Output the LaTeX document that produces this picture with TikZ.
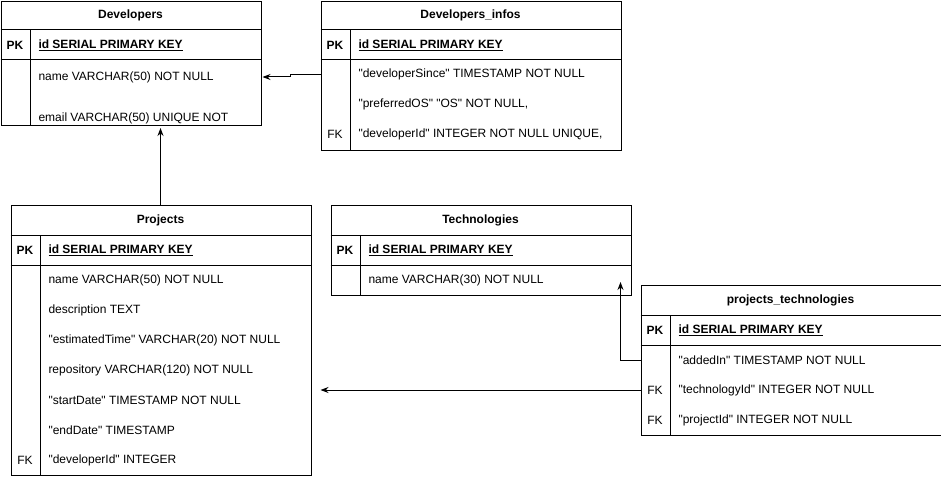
\documentclass[tikz,border=0pt]{standalone}
\usepackage{fontspec}
\newfontfamily\erfont{Liberation Sans}
\usetikzlibrary{positioning, calc, arrows.meta}
\tikzset{
  tbl/.style={draw, line width=1pt, anchor=north west, inner sep=0pt},
  ttl/.style={font=\erfont\fontsize{12}{14}\selectfont\bfseries},
  fld/.style={anchor=west, inner sep=0pt},
  pk/.style={font=\erfont\fontsize{12}{14}\selectfont\bfseries},
  link/.style={-{Stealth[length=8pt, width=6pt]}, line width=1pt},
}
\begin{document}
\begin{tikzpicture}[x=1pt, y=-1pt, font=\erfont\fontsize{12}{14}\selectfont, line width=1pt]
    \useasboundingbox (0,0) rectangle (941,476);
    % Developers
    \node[tbl, minimum width=260pt, minimum height=124pt] (dev) at (0.5,1) {};
    \draw (0.5,30) -- (260.5,30) (0.5,60) -- (260.5,60) (30,30) -- (30,125);
    \node[ttl] (devtitle) at (130.5,15) {Developers};
    \node[pk] (devpkl) at (15,45) {PK};
    \node[fld, pk] (devid) at (38,45) {\underline{id SERIAL PRIMARY KEY}};
    \node[fld] (devname) at (38,77) {name VARCHAR(50) NOT NULL};
    \node[fld] (devemail) at (38,118) {email VARCHAR(50) UNIQUE NOT};
    % Developers_infos
    \node[tbl, minimum width=300pt, minimum height=149pt] (devinfo) at (320.5,1) {};
    \draw (320.5,30) -- (620.5,30) (320.5,60) -- (620.5,60) (350,30) -- (350,150);
    \node[ttl] (infotitle) at (470.5,15) {Developers\_infos};
    \node[pk] (infopkl) at (335,45) {PK};
    \node[fld, pk] (infoid) at (358,45) {\underline{id SERIAL PRIMARY KEY}};
    \node[fld] (infosince) at (358,74.5) {"developerSince" TIMESTAMP NOT NULL};
    \node[fld] (infoos) at (358,104.5) {"preferredOS" "OS" NOT NULL,};
    \node (infofkl) at (335,134.5) {FK};
    \node[fld] (infodev) at (358,134.5) {"developerId" INTEGER NOT NULL UNIQUE,};
    % Projects
    \node[tbl, minimum width=300pt, minimum height=270pt] (proj) at (10.5,205) {};
    \draw (10.5,235) -- (310.5,235) (10.5,265) -- (310.5,265) (40,235) -- (40,475);
    \node[ttl] (projtitle) at (160.5,220) {Projects};
    \node[pk] (projpkl) at (25,250) {PK};
    \node[fld, pk] (projid) at (48,250) {\underline{id SERIAL PRIMARY KEY}};
    \node[fld] (projname) at (48,280) {name VARCHAR(50) NOT NULL};
    \node[fld] (projdesc) at (48,310) {description TEXT};
    \node[fld] (projtime) at (48,340) {"estimatedTime" VARCHAR(20) NOT NULL};
    \node[fld] (projrepo) at (48,370) {repository VARCHAR(120) NOT NULL};
    \node[fld] (projstart) at (48,400) {"startDate" TIMESTAMP NOT NULL};
    \node[fld] (projend) at (48,430) {"endDate" TIMESTAMP};
    \node (projfkl) at (25,460) {FK};
    \node[fld] (projdev) at (48,460) {"developerId" INTEGER};
    % Technologies
    \node[tbl, minimum width=300pt, minimum height=90pt] (tech) at (330.5,205) {};
    \draw (330.5,235) -- (630.5,235) (330.5,265) -- (630.5,265) (360,235) -- (360,295);
    \node[ttl] (techtitle) at (480.5,220) {Technologies};
    \node[pk] (techpkl) at (345,250) {PK};
    \node[fld, pk] (techid) at (368,250) {\underline{id SERIAL PRIMARY KEY}};
    \node[fld] (techname) at (368,280) {name VARCHAR(30) NOT NULL};
    % projects_technologies
    \node[tbl, minimum width=300pt, minimum height=150pt] (projtech) at (640.5,285) {};
    \draw (640.5,315) -- (940.5,315) (640.5,345) -- (940.5,345) (670,315) -- (670,435);
    \node[ttl] (pttitle) at (790.5,300) {projects\_technologies};
    \node[pk] (ptpkl) at (655,330) {PK};
    \node[fld, pk] (ptid) at (678,330) {\underline{id SERIAL PRIMARY KEY}};
    \node[fld] (ptadded) at (678,360) {"addedIn" TIMESTAMP NOT NULL};
    \node (pttechfkl) at (655,390) {FK};
    \node[fld] (pttech) at (678,390) {"technologyId" INTEGER NOT NULL};
    \node (ptprojfkl) at (655,420) {FK};
    \node[fld] (ptproj) at (678,420) {"projectId" INTEGER NOT NULL};
    % links
    \coordinate (techend) at (620.5,282);
    \draw[link] (infosince -| devinfo.west) -- ++(-30,0) |- ($(dev.east |- devname)+(1,0)$);
    \draw[link] (proj.north -| 160.5,0) -- ($(dev.south -| 160.5,0)+(0,2)$);
    \draw[link] (ptadded -| projtech.west) -| (techend);
    \draw[link, shorten >=9pt] (pttech -| projtech.west) -- (proj.east |- pttech);
\end{tikzpicture}
\end{document}
